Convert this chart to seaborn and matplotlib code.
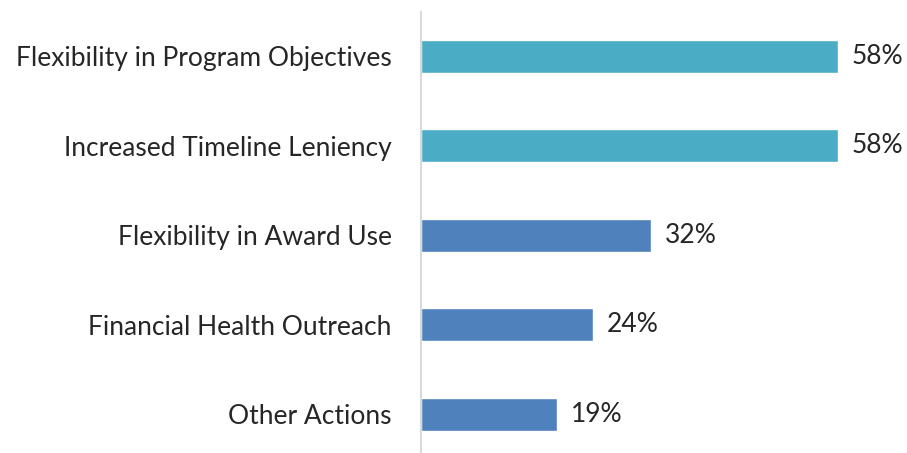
import matplotlib.pyplot as plt
import pandas as pd
import seaborn as sns

categories = [
    "Flexibility in Program Objectives",
    "Increased Timeline Leniency",
    "Flexibility in Award Use",
    "Financial Health Outreach",
    "Other Actions",
]
values = [58, 58, 32, 24, 19]
groups = ["top", "top", "rest", "rest", "rest"]
palette = {"top": "#4BACC6", "rest": "#4F81BD"}

sns.set_theme(style="white")
plt.rcParams["font.family"] = ["Lato", "DejaVu Sans"]

df = pd.DataFrame({"action": categories, "pct": values, "group": groups})

fig = plt.figure(figsize=(9.07, 4.53), dpi=100)
ax = fig.add_axes([0.464, -0.013, 0.515, 0.987])
sns.barplot(data=df, x="pct", y="action", hue="group", palette=palette,
            dodge=False, width=0.37, saturation=1, legend=False, ax=ax)

for i, v in enumerate(values):
    ax.text(v + 1.9, i, f"{v}%", va="center", ha="left", fontsize=19, color="#262626")

ax.set_xlim(0, 65)
ax.set_ylim(4.5, -0.5)
ax.set_xlabel("")
ax.set_ylabel("")
ax.set_xticks([])
ax.tick_params(axis="y", length=0, pad=21, labelsize=19, labelcolor="#262626")
for side in ["top", "right", "bottom"]:
    ax.spines[side].set_visible(False)
ax.spines["left"].set_color("#D9D9D9")
ax.spines["left"].set_linewidth(1.5)

fig.savefig("out.png", dpi=100)
